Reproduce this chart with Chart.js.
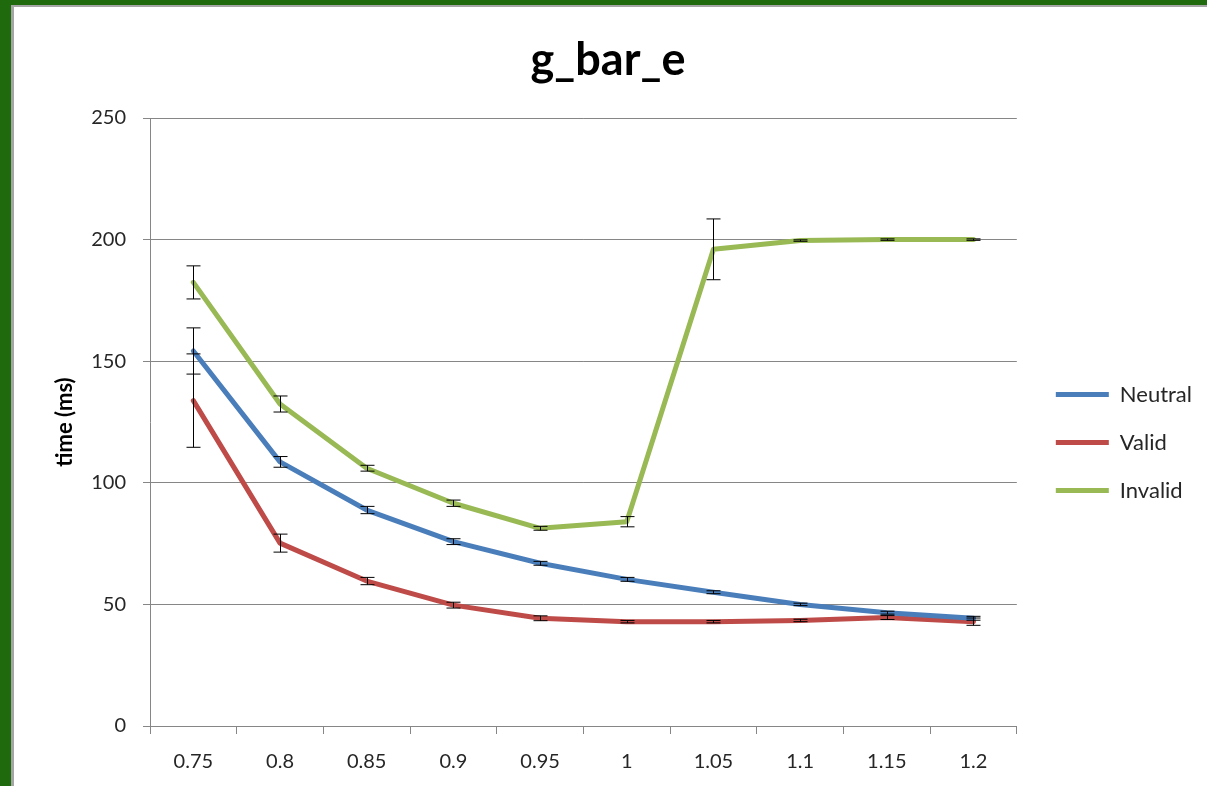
<!DOCTYPE html>
<html>
<head>
<meta charset="utf-8">
<script src="https://cdn.jsdelivr.net/npm/chart.js@4.4.1/dist/chart.umd.min.js"></script>
<style>
  html, body { margin: 0; padding: 0; }
  body { width: 1207px; height: 786px; background: #1e6a0c; overflow: hidden; position: relative; }
  .frame {
    position: absolute; left: 11px; top: 5px; right: 0; bottom: 0; overflow: hidden;
    background: #fff; border-left: 3px solid #a5a5a5; border-top: 2px solid #a5a5a5;
  }
  #chart { display: block; }
</style>
</head>
<body>
<div class="frame">
  <canvas id="chart" width="1193" height="783"></canvas>
</div>
<script>
// x categories
const ratios = ['0.75', '0.8', '0.85', '0.9', '0.95', '1', '1.05', '1.1', '1.15', '1.2'];

// mean times (ms)
const neutral = [154.2, 108.6, 88.8, 75.8, 66.9, 60.3, 55.0, 50.0, 46.6, 44.3];
const valid   = [133.8, 75.2, 59.6, 49.7, 44.3, 42.9, 42.9, 43.4, 44.6, 42.9];
const invalid = [182.4, 132.4, 106.0, 91.6, 81.3, 84.0, 196.0, 199.6, 200, 200];

// error bar half-lengths
const neutralErr = [9.5, 2.2, 1.5, 1.2, 0.8, 0.8, 0.6, 0.5, 0.6, 0.8];
const validErr   = [19.2, 3.7, 1.5, 1.2, 1.0, 0.5, 0.5, 0.5, 0.8, 1.5];
const invalidErr = [6.8, 3.3, 1.2, 1.3, 0.8, 2.1, 12.5, 0.3, 0.3, 0.3];

const yTicks = [0, 50, 100, 150, 200, 250];

const FONT = "Lato, 'Open Sans', sans-serif";
const TEXT = '#262626';

// draws the black error bars through the chart's own scales
const errorBars = {
  id: 'errorBars',
  afterDatasetsDraw(chart) {
    const ctx = chart.ctx;
    const y = chart.scales.y;
    ctx.save();
    ctx.strokeStyle = '#000';
    ctx.lineWidth = 1;
    chart.data.datasets.forEach((ds, i) => {
      const meta = chart.getDatasetMeta(i);
      meta.data.forEach((pt, j) => {
        const e = ds.errors[j];
        if (!e) return;
        const x = Math.round(pt.x) + 0.5;
        const top = y.getPixelForValue(ds.data[j] + e);
        const bot = y.getPixelForValue(ds.data[j] - e);
        ctx.beginPath();
        ctx.moveTo(x, top); ctx.lineTo(x, bot);
        ctx.moveTo(x - 7, top); ctx.lineTo(x + 7, top);
        ctx.moveTo(x - 7, bot); ctx.lineTo(x + 7, bot);
        ctx.stroke();
      });
    });
    ctx.restore();
  }
};

function series(label, data, errors, color) {
  return {
    label, data, errors,
    borderColor: color,
    backgroundColor: color,
    borderWidth: 5,
    borderJoinStyle: 'round',
    borderCapStyle: 'round',
    pointRadius: 0,
    pointHoverRadius: 0,
    pointStyle: 'line',
    tension: 0
  };
}

new Chart(document.getElementById('chart'), {
  type: 'line',
  data: {
    labels: ratios,
    datasets: [
      series('Neutral', neutral, neutralErr, '#4a7ebb'),
      series('Valid', valid, validErr, '#be4b48'),
      series('Invalid', invalid, invalidErr, '#98b954')
    ]
  },
  options: {
    responsive: false,
    animation: false,
    layout: { padding: { left: 0, right: 5, top: 0, bottom: 0 } },
    plugins: {
      title: {
        display: true,
        text: 'g_bar_e',
        color: '#000',
        font: { family: FONT, size: 45, weight: 'bold' },
        padding: { top: 26, bottom: 31 }
      },
      legend: {
        position: 'right',
        title: { display: true, text: ' ', font: { size: 20 }, padding: 32 },
        labels: {
          usePointStyle: true,
          pointStyleWidth: 53,
          boxHeight: 4,
          padding: 26,
          color: TEXT,
          font: { family: FONT, size: 22 }
        }
      },
      tooltip: { enabled: false }
    },
    scales: {
      x: {
        offset: true,
        grid: { offset: true, drawOnChartArea: false, drawTicks: true, tickLength: 8, color: '#868686' },
        border: { color: '#868686', width: 1 },
        ticks: { color: TEXT, font: { family: FONT, size: 20 }, padding: 16, maxRotation: 0 }
      },
      y: {
        min: 0, max: 250,
        afterBuildTicks: axis => { axis.ticks = yTicks.map(v => ({ value: v })); },
        afterFit: axis => { axis.width = 136; },
        grid: { color: '#868686', lineWidth: 1, tickLength: 7 },
        border: { color: '#868686', width: 1 },
        ticks: { color: TEXT, font: { family: FONT, size: 20 }, padding: 17 },
        title: {
          display: true,
          text: 'time (ms)',
          color: '#000',
          font: { family: FONT, size: 22, weight: 'bold' },
          padding: { top: 38, bottom: 0 }
        }
      },
      // empty gap between the plot and the legend
      gap: {
        position: 'right',
        display: true,
        grid: { display: false },
        border: { display: false },
        ticks: { display: false },
        afterFit: axis => { axis.width = 13; }
      }
    }
  },
  plugins: [errorBars]
});
</script>
</body>
</html>
